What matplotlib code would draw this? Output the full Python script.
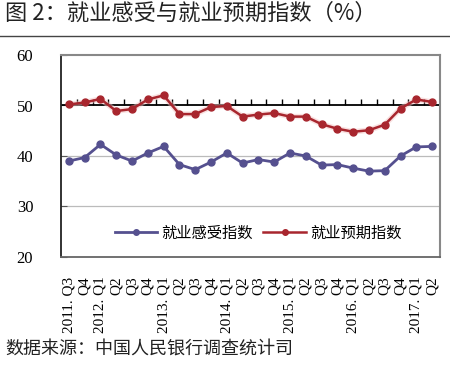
import matplotlib
matplotlib.use("Agg")
import matplotlib.pyplot as plt
import numpy as np

plt.rcParams['font.family'] = ['Liberation Serif', 'Noto Sans CJK SC', 'DejaVu Sans']

categories = ["2011. Q3", "Q4", "2012. Q1", "Q2", "Q3", "Q4",
              "2013. Q1", "Q2", "Q3", "Q4", "2014. Q1", "Q2", "Q3", "Q4",
              "2015. Q1", "Q2", "Q3", "Q4", "2016. Q1", "Q2", "Q3", "Q4",
              "2017. Q1", "Q2"]
feel = [39.0, 39.7, 42.3, 40.2, 39.0, 40.6, 41.9, 38.3, 37.3, 38.8, 40.6, 38.6,
        39.3, 38.8, 40.6, 40.0, 38.2, 38.3, 37.6, 37.0, 37.1, 40.0, 41.8, 41.9]
expect = [50.2, 50.6, 51.3, 48.9, 49.3, 51.2, 52.0, 48.3, 48.3, 49.7, 49.9, 47.8,
          48.2, 48.5, 47.8, 47.8, 46.3, 45.4, 44.8, 45.1, 46.2, 49.4, 51.2, 50.7]
series_names = ["就业感受指数", "就业预期指数"]
yticks = [20, 30, 40, 50, 60]

W, H = 450, 366
fig = plt.figure(figsize=(W / 100, H / 100), dpi=100)
ax = fig.add_axes([61 / W, 1 - 257 / H, (440 - 61) / W, (257 - 55) / H])

x = np.arange(len(categories))
blue = '#55508F'
red = '#A8262E'

# gridlines
for v in [30, 40]:
    ax.axhline(v, color='#BBBBBB', lw=0.9, zorder=1)
ax.axhline(50, color='black', lw=1.3, zorder=2)
ax.vlines(x[:-1] + 0.5, 50, 51.2, color='black', lw=1.0, zorder=2)

# soft glow for red line
ax.plot(x, expect, color='#F4C4C4', lw=4, alpha=0.5, zorder=3, solid_capstyle='round')
ax.plot(x, feel, color=blue, lw=2, marker='o', ms=5, label=series_names[0], zorder=4)
ax.plot(x, expect, color=red, lw=1.8, marker='o', ms=5, label=series_names[1], zorder=4)

ax.set_xlim(-0.5, len(categories) - 0.5)
ax.set_ylim(20, 60)
ax.set_yticks(yticks)
ax.set_yticklabels([str(v) for v in yticks], fontsize=12)
ax.tick_params(axis='y', direction='in', length=4, pad=20, color='#555555')
ax.set_xticks(x)
ax.set_xticklabels(categories, rotation=90, fontsize=11, va='top', ha='center')
ax.tick_params(axis='x', length=0, pad=14)

for s in ['top', 'right']:
    ax.spines[s].set_color('#888888')
    ax.spines[s].set_linewidth(1.5)
for s in ['left', 'bottom']:
    ax.spines[s].set_color('#222222')
    ax.spines[s].set_linewidth(1.3)
ax.spines['bottom'].set_color('#666666')

leg = fig.legend(loc='center', bbox_to_anchor=(258 / W, 1 - 233 / H), ncol=2,
                 frameon=False, handlelength=2.8, handletextpad=0.25,
                 columnspacing=0.7, markerscale=0.8,
                 prop={'family': ['Noto Sans CJK SC'], 'size': 11})

fig.text(5 / W, 1 - 13 / H, "图 2：就业感受与就业预期指数（%）", fontsize=16,
         family=['Noto Sans CJK SC'], va='center', ha='left', color='#222222')
fig.add_artist(plt.Line2D([0, 1], [1 - 36 / H, 1 - 36 / H], color='#444444', lw=1.0,
                          transform=fig.transFigure))
fig.text(5 / W, 1 - 350 / H, "数据来源：中国人民银行调查统计司", fontsize=13,
         family=['Noto Sans CJK SC'], va='center', ha='left', color='#222222')

fig.savefig('out.png', dpi=100)
